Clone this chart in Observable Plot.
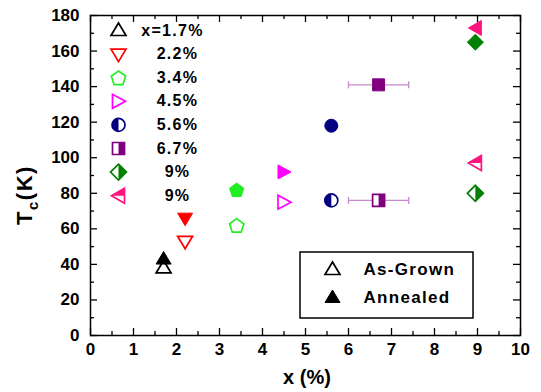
<!DOCTYPE html>
<html><head><meta charset="utf-8">
<script src="https://cdn.jsdelivr.net/npm/d3@7"></script>
<script src="https://cdn.jsdelivr.net/npm/@observablehq/plot@0.6"></script>
<style>body{margin:0;background:#fff}#chart{width:541px;height:392px}</style>
</head><body><div id="chart"></div>
<script>
// ---- data ----
const compositions = [1.7, 2.2, 3.4, 4.5, 5.6, 6.7, 8.95, 8.95];
const legendLabels = ["x=1.7%", "2.2%", "3.4%", "4.5%", "5.6%", "6.7%", "9%", "9%"];
const tcAsGrown = [38, 53, 62, 75, 76, 76, 80, 97];
const tcAnnealed = [43, 66, 82, 92, 118, 141, 165, 173];
const seriesColors = ["#000000", "#ff0000", "#22ee22", "#ff00ff", "#000080", "#800080", "#008000", "#ff1480"];
const seriesShapes = ["triUp", "triDown", "pentagon", "triRight", "circle", "square", "diamond", "triLeft"];
const asGrownStyle = ["open", "open", "open", "open", "half", "half", "half", "half"];
const errorBarX = [6.7, 6.7];
const errorBarY = [141, 76];
const errorBarLow = [6.0, 6.0];
const errorBarHigh = [7.4, 7.4];
const keyLabels = ["As-Grown", "Annealed"];
const xTicks = [0, 1, 2, 3, 4, 5, 6, 7, 8, 9, 10];
const xMinorTicks = [0.5, 1.5, 2.5, 3.5, 4.5, 5.5, 6.5, 7.5, 8.5, 9.5];
const yTicks = [0, 20, 40, 60, 80, 100, 120, 140, 160, 180];
const yMinorTicks = [10, 30, 50, 70, 90, 110, 130, 150, 170];

// ---- layout ----
const W = 541, H = 392, mL = 90, mR = 21, mT = 15, mB = 57;
const PW = W - mL - mR, PH = H - mT - mB;
const xDom = [0, 10], yDom = [0, 180];
const xd = px => xDom[0] + (px - mL) / PW * (xDom[1] - xDom[0]);
const yd = py => yDom[0] + (H - mB - py) / PH * (yDom[1] - yDom[0]);
const FONT = "'Liberation Sans', Arial, Helvetica, sans-serif";

// ---- symbols ----
function poly(pts) {
  return {draw(ctx, size) {
    const k = Math.sqrt(size / Math.PI) / 7;
    ctx.moveTo(pts[0][0] * k, pts[0][1] * k);
    for (const [a, b] of pts.slice(1)) ctx.lineTo(a * k, b * k);
    ctx.closePath();
  }};
}
const pent = [0, 1, 2, 3, 4].map(i => {
  const a = -Math.PI / 2 + i * 2 * Math.PI / 5;
  return [7.5 * Math.cos(a), 7.5 * Math.sin(a) + 0.8];
});
const shapes = {
  triUp: poly([[0, -7.5], [7.5, 5], [-7.5, 5]]),
  triDown: poly([[0, 7.5], [7.5, -5], [-7.5, -5]]),
  pentagon: poly(pent),
  triRight: poly([[7, 0], [-6, -7], [-6, 7]]),
  triLeft: poly([[-7, 0], [6, -7.5], [6, 7.5]]),
  diamond: poly([[0, -8], [8, 0], [0, 8], [-8, 0]]),
  square: poly([[-6, -6], [6, -6], [6, 6], [-6, 6]]),
  circle: {draw(ctx, size) { const r = Math.sqrt(size / Math.PI) * 6.5 / 7; ctx.moveTo(r, 0); ctx.arc(0, 0, r, 0, 2 * Math.PI); }}
};
const halves = {
  circle: {draw(ctx, size) { const r = Math.sqrt(size / Math.PI) * 6.5 / 7; ctx.moveTo(0, -r); ctx.arc(0, 0, r, -Math.PI / 2, Math.PI / 2, true); ctx.closePath(); }},
  square: poly([[0, -6], [6, -6], [6, 6], [0, 6]]),
  diamond: poly([[0, -8], [8, 0], [0, 8]]),
  triLeft: poly([[-7, 0], [6, -7.5], [6, 0]])
};
const vline = {draw(ctx, size) { ctx.moveTo(0, -3.5); ctx.lineTo(0, 3.5); }};

function asGrownMarks(data, i, xAcc, yAcc) {
  const col = seriesColors[i], sh = seriesShapes[i];
  const out = [];
  if (asGrownStyle[i] === "open") {
    out.push(Plot.dot(data, {x: xAcc, y: yAcc, r: 7, symbol: shapes[sh], fill: "white", stroke: col, strokeWidth: 1.7}));
  } else {
    out.push(Plot.dot(data, {x: xAcc, y: yAcc, r: 7, symbol: shapes[sh], fill: "white", stroke: "none"}));
    out.push(Plot.dot(data, {x: xAcc, y: yAcc, r: 7, symbol: halves[sh], fill: col, stroke: "none"}));
    out.push(Plot.dot(data, {x: xAcc, y: yAcc, r: 7, symbol: shapes[sh], fill: "none", stroke: col, strokeWidth: 1.7}));
  }
  return out;
}

const marks = [];
marks.push(
  Plot.tickX(xTicks, {x: d => d, insetTop: PH - 7, strokeWidth: 1.3}),
  Plot.tickX(xTicks, {x: d => d, insetBottom: PH - 7, strokeWidth: 1.3}),
  Plot.tickX(xMinorTicks, {x: d => d, insetTop: PH - 4, strokeWidth: 1.3}),
  Plot.tickX(xMinorTicks, {x: d => d, insetBottom: PH - 4, strokeWidth: 1.3}),
  Plot.tickY(yTicks, {y: d => d, insetRight: PW - 7, strokeWidth: 1.3}),
  Plot.tickY(yTicks, {y: d => d, insetLeft: PW - 7, strokeWidth: 1.3}),
  Plot.tickY(yMinorTicks, {y: d => d, insetRight: PW - 4, strokeWidth: 1.3}),
  Plot.tickY(yMinorTicks, {y: d => d, insetLeft: PW - 4, strokeWidth: 1.3}),
  Plot.axisX(xTicks, {tickSize: 0, tickPadding: 7, label: null}),
  Plot.axisY(yTicks, {tickSize: 0, tickPadding: 11, label: null})
);

const errRows = errorBarX.map((x, j) => ({x, y: errorBarY[j], lo: errorBarLow[j], hi: errorBarHigh[j]}));
const errColor = "#c68ccc";
marks.push(
  Plot.ruleY(errRows, {y: "y", x1: "lo", x2: "hi", stroke: errColor, strokeWidth: 1.3}),
  Plot.dot(errRows, {x: "lo", y: "y", symbol: vline, r: 7, stroke: errColor, strokeWidth: 1.3, fill: "none"}),
  Plot.dot(errRows, {x: "hi", y: "y", symbol: vline, r: 7, stroke: errColor, strokeWidth: 1.3, fill: "none"})
);

compositions.forEach((x, i) => {
  const row = [{x, ag: tcAsGrown[i], an: tcAnnealed[i]}];
  marks.push(...asGrownMarks(row, i, "x", "ag"));
  marks.push(Plot.dot(row, {x: "x", y: "an", r: 7, symbol: shapes[seriesShapes[i]], fill: seriesColors[i], stroke: seriesColors[i], strokeWidth: 1}));
});

legendLabels.forEach((lab, i) => {
  const row = [{lx: xd(118), ly: yd(30 + i * 23.6), tx: xd(i === 0 ? 172 : 177), text: lab}];
  marks.push(...asGrownMarks(row, i, "lx", "ly"));
  marks.push(Plot.text(row, {x: "tx", y: "ly", text: "text", fontSize: 16, fontWeight: "bold", textAnchor: "middle", fill: "black"}));
});

const keyRows = keyLabels.map((t, j) => ({kx: xd(332), ky: yd(j === 0 ? 269 : 297), tx: xd(363), text: t, filled: j === 1}));
marks.push(
  Plot.rect([0], {x1: xd(300), x2: xd(473), y1: yd(318), y2: yd(252), fill: "white", stroke: "black", strokeWidth: 1.5}),
  Plot.dot(keyRows.filter(d => !d.filled), {x: "kx", y: "ky", r: 7, symbol: shapes.triUp, fill: "white", stroke: "black", strokeWidth: 1.7}),
  Plot.dot(keyRows.filter(d => d.filled), {x: "kx", y: "ky", r: 7, symbol: shapes.triUp, fill: "black", stroke: "black", strokeWidth: 1}),
  Plot.text(keyRows, {x: "tx", y: "ky", text: "text", fontSize: 17, fontWeight: "bold", textAnchor: "start", fill: "black"})
);

marks.push(Plot.frame({stroke: "black", strokeWidth: 1.5}));

const chart = Plot.plot({
  width: W, height: H,
  marginLeft: mL, marginRight: mR, marginTop: mT, marginBottom: mB,
  x: {domain: xDom, label: null},
  y: {domain: yDom, label: null},
  style: {fontFamily: FONT, fontSize: "17px", fontWeight: "bold", background: "white", color: "black"},
  marks
});

const svg = d3.select(chart);
svg.selectAll('g[aria-label="text"] text').style("letter-spacing", "1.3px");
svg.append("text")
  .attr("x", mL + PW / 2 + 2).attr("y", 384)
  .attr("text-anchor", "middle")
  .attr("font-family", FONT).attr("font-size", 20).attr("font-weight", "bold")
  .text("x (%)");
const yl = svg.append("text")
  .attr("transform", `translate(32, ${mT + PH / 2 + 20}) rotate(-90)`)
  .attr("text-anchor", "middle")
  .attr("font-family", FONT).attr("font-size", 22).attr("font-weight", "bold")
  .style("letter-spacing", "1.5px");
yl.append("tspan").text("T");
yl.append("tspan").attr("font-size", 15).attr("dy", 6).text("c");
yl.append("tspan").attr("dy", -6).text("(K)");

document.getElementById("chart").appendChild(chart);
</script>
</body></html>
